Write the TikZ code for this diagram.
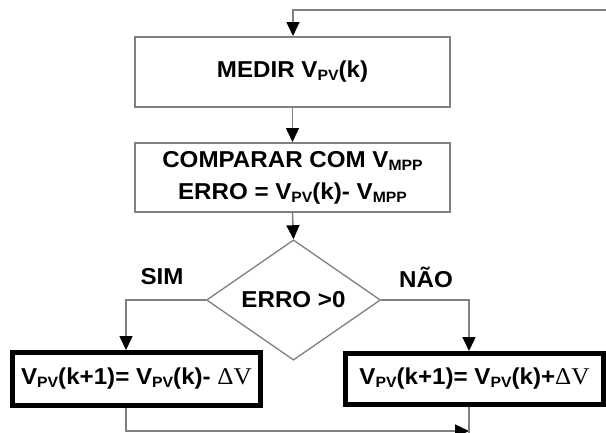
\documentclass[tikz,border=0pt]{standalone}
\usepackage{fontspec}
\setmainfont{Liberation Sans}[FakeStretch=1.05]
\newfontfamily\serifd{Liberation Serif}[FakeStretch=1.05]
\usetikzlibrary{shapes.geometric,arrows.meta}
\definecolor{ln}{gray}{0.5}
\newcommand{\sbs}[1]{\raisebox{-0.25ex}{\fontsize{15}{15}\selectfont #1}}
\newcommand{\dv}{{\serifd\mdseries\fontsize{24}{24}\selectfont ΔV}}
\tikzset{
  txt/.style={font=\fontsize{23}{32}\selectfont\bfseries, text=black, align=center, inner sep=0pt},
  gbox/.style={txt, draw=ln, line width=2pt, minimum width=315pt},
  kbox/.style={txt, draw=black, line width=5pt},
  dec/.style={txt, draw=ln, line width=1.3pt, shape=diamond, minimum width=174pt, minimum height=106pt},
  conn/.style={draw=ln, line width=1.5pt},
  arr/.style={conn, -{Triangle[length=14pt,width=13pt,color=black]}},
  lab/.style={txt}
}
\begin{document}
\begin{tikzpicture}[x=1pt,y=-1pt]
\useasboundingbox (0,0) rectangle (606,432);
\clip (0,0) rectangle (606,432);
\fill[white] (0,0) rectangle (606,432);

\node[gbox, minimum height=70pt] (medir) at (292.5,72) {MEDIR V\sbs{PV}(k)};
\node[gbox, minimum height=69pt] (comp) at (292.5,177.5) {COMPARAR COM V\sbs{MPP}\\ERRO = V\sbs{PV}(k)- V\sbs{MPP}};
\node[dec] (dia) at (293.5,300) {ERRO >0};
\node[kbox, minimum width=248pt, minimum height=53pt] (lb) at (136.5,379) {V\sbs{PV}(k+1)= V\sbs{PV}(k)- \dv};
\node[kbox, minimum width=258pt, minimum height=51pt] (rb) at (474.5,379) {V\sbs{PV}(k+1)= V\sbs{PV}(k)+\dv};

\node[lab] (sim) at (162,277) {SIM};
\node[lab] (nao) at (426,277) {NÃO};

\coordinate (topr) at (620,10);
\coordinate (topl) at (293,10);
\coordinate (lt) at (126,300);
\coordinate (rt) at (469,300);
\coordinate (bl) at (126,431);
\coordinate (br) at (469,431);
\coordinate (brd) at (469,445);

\draw[arr] (topr) -- (topl) -- (topl |- medir.north);
\draw[arr] (medir.south) -- (comp.north);
\draw[arr] (comp.south) -- (dia.north);
\draw[arr] (dia.west) -- (lt) -- (lt |- lb.north);
\draw[arr] (dia.east) -- (rt) -- (rt |- rb.north);
\draw[arr] (lt |- lb.south) -- (bl) -- (br);
\draw[conn] (rt |- rb.south) -- (brd);
\end{tikzpicture}
\end{document}
